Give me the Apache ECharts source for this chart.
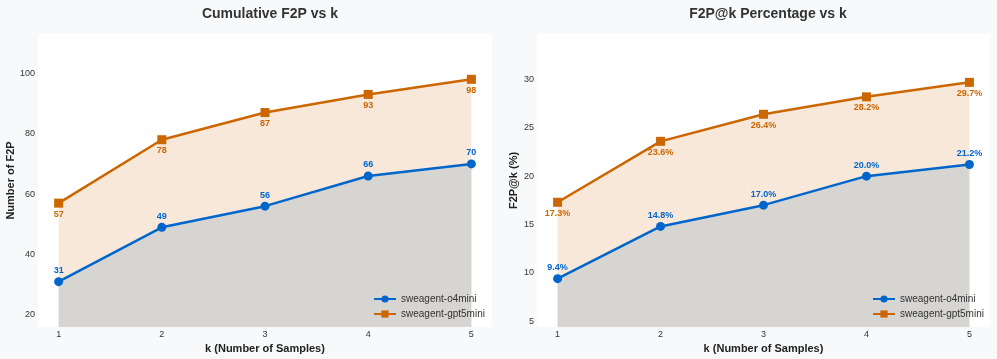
<!DOCTYPE html>
<html>
<head>
<meta charset="utf-8">
<script src="https://cdn.jsdelivr.net/npm/echarts@6/dist/echarts.min.js"></script>
<style>
  html, body { margin: 0; padding: 0; background: #f8f9fa; }
  #chart { width: 997px; height: 359px; }
</style>
</head>
<body>
<div id="chart"></div>
<script>
const kValues = [1, 2, 3, 4, 5];
const o4miniCount = [31, 49, 56, 66, 70];
const gpt5miniCount = [57, 78, 87, 93, 98];
const o4miniPct = [9.4, 14.8, 17.0, 20.0, 21.2];
const gpt5miniPct = [17.3, 23.6, 26.4, 28.2, 29.7];
const countTicks = [20, 40, 60, 80, 100];
const pctTicks = [5, 10, 15, 20, 25, 30];

const BLUE = "#0066cc";
const ORANGE = "#cc6600";
const FONT = "Liberation Sans, Arial, sans-serif";

const pairs = (ys) => kValues.map((k, i) => [k, ys[i]]);

const mChart = echarts.init(document.getElementById("chart"));

const makeSeries = (name, ys, axisIdx, isBlue, fmt) => ({
  name: name,
  type: "line",
  xAxisIndex: axisIdx,
  yAxisIndex: axisIdx,
  data: pairs(ys),
  symbol: isBlue ? "circle" : "rect",
  symbolSize: 9,
  lineStyle: { color: isBlue ? BLUE : ORANGE, width: 2.5 },
  itemStyle: { color: isBlue ? BLUE : ORANGE },
  areaStyle: {
    color: isBlue ? "#d6d5d2" : "#f8e8da",
    opacity: 1,
    origin: "start",
  },
  z: isBlue ? 3 : 2,
  label: {
    show: true,
    position: isBlue ? "top" : "bottom",
    distance: 2,
    color: isBlue ? BLUE : ORANGE,
    fontWeight: "bold",
    fontSize: 9,
    fontFamily: FONT,
    formatter: (p) => fmt(p.value[1]),
  },
});

const xAxisFor = (gridIndex) => ({
  gridIndex: gridIndex,
  type: "value",
  min: 0.8,
  max: 5.2,
  axisLine: { show: false },
  axisTick: { show: false },
  splitLine: { show: false },
  axisLabel: {
    customValues: kValues,
    color: "#333",
    fontSize: 9,
    fontFamily: FONT,
    margin: 3,
  },
  name: "k (Number of Samples)",
  nameLocation: "middle",
  nameGap: 13,
  nameTextStyle: { color: "#222", fontSize: 11, fontWeight: "bold", fontFamily: FONT },
});

const yAxisFor = (gridIndex, min, max, ticks, name, gap) => ({
  gridIndex: gridIndex,
  type: "value",
  min: min,
  max: max,
  axisLine: { show: false },
  axisTick: { show: false },
  splitLine: { show: false },
  axisLabel: {
    customValues: ticks,
    color: "#333",
    fontSize: 9,
    fontFamily: FONT,
    margin: 3,
  },
  name: name,
  nameLocation: "middle",
  nameGap: gap,
  nameTextStyle: { color: "#222", fontSize: 11, fontWeight: "bold", fontFamily: FONT },
});

const legendFor = (left) => ({
  data: ["sweagent-o4mini", "sweagent-gpt5mini"],
  left: left,
  top: 294,
  padding: 0,
  orient: "vertical",
  itemWidth: 22,
  itemHeight: 9,
  itemGap: 5,
  textStyle: { color: "#333", fontSize: 10, fontFamily: FONT },
});

mChart.setOption({
  backgroundColor: "#f8f9fa",
  animation: false,
  title: [
    {
      text: "Cumulative F2P vs k",
      left: 265,
      top: 2,
      textAlign: "center",
      textStyle: { color: "#333", fontSize: 14, fontWeight: "bold", fontFamily: FONT },
    },
    {
      text: "F2P@k Percentage vs k",
      left: 763,
      top: 2,
      textAlign: "center",
      textStyle: { color: "#333", fontSize: 14, fontWeight: "bold", fontFamily: FONT },
    },
  ],
  grid: [
    { left: 38, right: 505, top: 34, bottom: 32, outerBoundsMode: "none", show: true, backgroundColor: "#fff", borderWidth: 0 },
    { left: 537, right: 7, top: 34, bottom: 32, outerBoundsMode: "none", show: true, backgroundColor: "#fff", borderWidth: 0 },
  ],
  legend: [legendFor(373), legendFor(872)],
  xAxis: [xAxisFor(0), xAxisFor(1)],
  yAxis: [
    yAxisFor(0, 16, 113, countTicks, "Number of F2P", 16),
    yAxisFor(1, 4.4, 34.7, pctTicks, "F2P@k (%)", 18),
  ],
  series: [
    makeSeries("sweagent-gpt5mini", gpt5miniCount, 0, false, (v) => String(v)),
    makeSeries("sweagent-o4mini", o4miniCount, 0, true, (v) => String(v)),
    makeSeries("sweagent-gpt5mini", gpt5miniPct, 1, false, (v) => v.toFixed(1) + "%"),
    makeSeries("sweagent-o4mini", o4miniPct, 1, true, (v) => v.toFixed(1) + "%"),
  ],
});
</script>
</body>
</html>
